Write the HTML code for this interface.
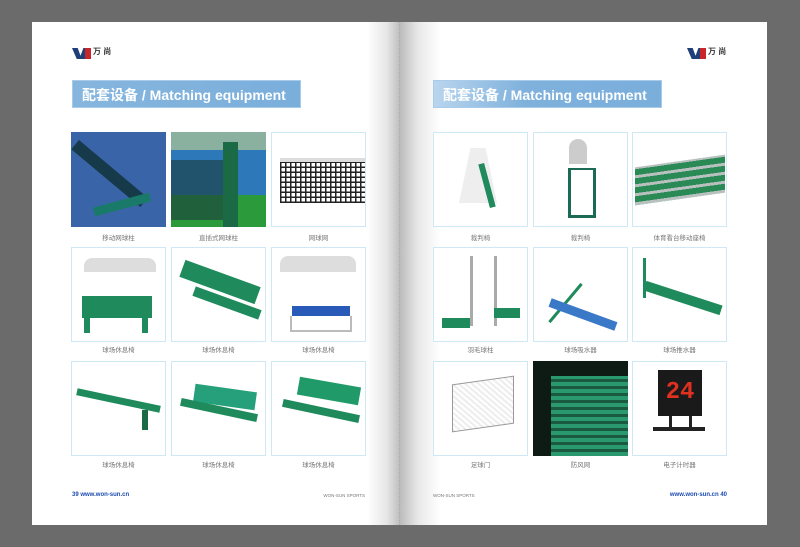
<!DOCTYPE html>
<html><head><meta charset="utf-8"><style>
*{margin:0;padding:0;box-sizing:border-box}
body{width:800px;height:547px;background:#6b6b6b;position:relative;overflow:hidden;font-family:"Liberation Sans","Noto Sans CJK SC",sans-serif}
.pg{position:absolute;top:22px;height:503px;background:#fff}
.a{position:absolute}
.box{position:absolute;width:95px;height:95px;border:1px solid #cfe8f6;background:#fff;overflow:hidden}
.lab{position:absolute;width:95px;text-align:center;font-size:6.5px;color:#777}
.bar{position:absolute;top:80px;height:28px;width:229px;background:linear-gradient(90deg,#86b6de,#7aaedb);color:#fff;font-weight:bold;font-size:14px;line-height:28px;padding-left:9px;border:1px solid #a9cbea}
.logo{position:absolute;top:47px;width:42px;height:14px}
.logo .w{position:absolute;left:0;top:1px;width:19px;height:11px;background:#1f3f7a;clip-path:polygon(0 0,30% 0,45% 70%,60% 0,100% 0,75% 100%,25% 100%)}
.logo .r{position:absolute;left:13px;top:1px;width:6px;height:11px;background:#c8262b}
.logo .t{position:absolute;left:21px;top:-1px;font-size:8px;font-weight:bold;color:#333}
.green{background:#1f8a5b}
</style></head><body>
<div class="pg" style="left:32px;width:368px;background:linear-gradient(90deg,#fff 0,#fff 335px,#e6e6e6 355px,#bdbdbd 368px)"></div>
<div class="pg" style="left:400px;width:367px;background:linear-gradient(90deg,#bcbcbc 0,#e8e8e8 18px,#fff 40px,#fff)"></div>
<div class="a" style="left:399px;top:22px;width:1px;height:503px;border-left:1px dotted #aaa"></div>

<div class="logo" style="left:72px"><div class="w"></div><div class="r"></div><div class="t">万 尚</div></div>
<div class="logo" style="left:687px"><div class="w"></div><div class="r"></div><div class="t">万 尚</div></div>

<div class="bar" style="left:72px">配套设备 / Matching equipment</div>
<div class="bar" style="left:433px;background:linear-gradient(90deg,#b9d5ee,#7fb1dc 40%,#7aaedb)">配套设备 / Matching equipment</div>

<!-- left page -->
<div class="box" style="left:71px;top:132px;background:#3a64a8;border:none"><div class="a" style="left:8px;top:8px;width:70px;height:12px;background:#163a4a;transform:rotate(40deg);transform-origin:0 0;width:90px"></div><div class="a" style="left:22px;top:68px;width:58px;height:9px;background:#1a7a6a;transform:rotate(-15deg)"></div></div>
<div class="box" style="left:171px;top:132px;background:#2a9a3a;border:none"><div class="a" style="left:0;top:0;width:95px;height:18px;background:#8ab0a0"></div><div class="a" style="left:0;top:18px;width:95px;height:45px;background:#2d78b8"></div><div class="a" style="left:0;top:28px;width:52px;height:60px;background:#1a3a3a;opacity:.6"></div><div class="a" style="left:52px;top:10px;width:15px;height:85px;background:#1a6a45"></div></div>
<div class="box" style="left:271px;top:132px"><div class="a" style="left:8px;top:25px;width:86px;height:45px;background:repeating-linear-gradient(0deg,#222 0 1.5px,transparent 1.5px 5px),repeating-linear-gradient(90deg,#222 0 1.5px,transparent 1.5px 5px);border-top:4px solid #ddd"></div></div>
<div class="lab" style="left:71px;top:232px">移动网球柱</div><div class="lab" style="left:171px;top:232px">直插式网球柱</div><div class="lab" style="left:271px;top:232px">网球网</div>

<div class="box" style="left:71px;top:247px"><div class="a" style="left:12px;top:10px;width:72px;height:14px;background:#ddd;border-radius:8px 8px 0 0"></div><div class="a green" style="left:10px;top:48px;width:70px;height:22px"></div><div class="a green" style="left:12px;top:70px;width:6px;height:15px"></div><div class="a green" style="left:70px;top:70px;width:6px;height:15px"></div></div>
<div class="box" style="left:171px;top:247px"><div class="a green" style="left:8px;top:25px;width:80px;height:18px;transform:rotate(20deg)"></div><div class="a green" style="left:20px;top:50px;width:70px;height:10px;transform:rotate(20deg)"></div></div>
<div class="box" style="left:271px;top:247px"><div class="a" style="left:8px;top:8px;width:76px;height:16px;background:#ddd;border-radius:8px 8px 0 0"></div><div class="a" style="left:20px;top:58px;width:58px;height:10px;background:#2a5ab8"></div><div class="a" style="left:18px;top:68px;width:62px;height:16px;border:2px solid #bbb;border-top:none"></div></div>
<div class="lab" style="left:71px;top:344px">球场休息椅</div><div class="lab" style="left:171px;top:344px">球场休息椅</div><div class="lab" style="left:271px;top:344px">球场休息椅</div>

<div class="box" style="left:71px;top:361px"><div class="a green" style="left:4px;top:35px;width:85px;height:7px;transform:rotate(12deg)"></div><div class="a" style="left:70px;top:48px;width:6px;height:20px;background:#1a6a45"></div></div>
<div class="box" style="left:171px;top:361px"><div class="a" style="left:22px;top:26px;width:62px;height:18px;background:#25a07a;transform:rotate(8deg)"></div><div class="a green" style="left:8px;top:44px;width:78px;height:8px;transform:rotate(12deg)"></div></div>
<div class="box" style="left:271px;top:361px"><div class="a" style="left:26px;top:20px;width:62px;height:18px;background:#1f9a68;transform:rotate(10deg)"></div><div class="a green" style="left:10px;top:45px;width:78px;height:8px;transform:rotate(12deg)"></div></div>
<div class="lab" style="left:71px;top:459px">球场休息椅</div><div class="lab" style="left:171px;top:459px">球场休息椅</div><div class="lab" style="left:271px;top:459px">球场休息椅</div>

<div class="a" style="left:72px;top:492px;font-size:6px;color:#1a4ab0;font-weight:bold">39 www.won-sun.cn</div>
<div class="a" style="left:300px;top:493px;width:65px;text-align:right;font-size:4.5px;color:#777">WON-SUN SPORTS</div>

<!-- right page -->
<div class="box" style="left:433px;top:132px"><div class="a" style="left:25px;top:15px;width:38px;height:55px;background:#eee;clip-path:polygon(30% 0,70% 0,100% 100%,0 100%)"></div><div class="a green" style="left:50px;top:30px;width:6px;height:45px;transform:rotate(-15deg)"></div></div>
<div class="box" style="left:533px;top:132px"><div class="a" style="left:35px;top:6px;width:18px;height:25px;background:#ccc;border-radius:10px 10px 0 0"></div><div class="a" style="left:34px;top:35px;width:28px;height:50px;border:3px solid #1a6a55;border-top-width:2px"></div></div>
<div class="box" style="left:632px;top:132px"><div class="a" style="left:2px;top:28px;width:90px;height:38px;background:repeating-linear-gradient(0deg,#b8c0c0 0 3px,#2a8a55 3px 9px);transform:skewY(-8deg)"></div></div>
<div class="lab" style="left:433px;top:232px">裁判椅</div><div class="lab" style="left:533px;top:232px">裁判椅</div><div class="lab" style="left:632px;top:232px">体育看台移动座椅</div>

<div class="box" style="left:433px;top:247px"><div class="a" style="left:36px;top:8px;width:3px;height:70px;background:#aaa"></div><div class="a" style="left:60px;top:8px;width:3px;height:70px;background:#aaa"></div><div class="a green" style="left:8px;top:70px;width:28px;height:10px"></div><div class="a green" style="left:60px;top:60px;width:26px;height:10px"></div></div>
<div class="box" style="left:533px;top:247px"><div class="a green" style="left:30px;top:30px;width:3px;height:50px;transform:rotate(40deg)"></div><div class="a" style="left:14px;top:62px;width:70px;height:9px;background:#3a78c8;transform:rotate(20deg)"></div></div>
<div class="box" style="left:632px;top:247px"><div class="a green" style="left:10px;top:10px;width:3px;height:40px"></div><div class="a green" style="left:10px;top:45px;width:80px;height:10px;transform:rotate(18deg)"></div></div>
<div class="lab" style="left:433px;top:344px">羽毛球柱</div><div class="lab" style="left:533px;top:344px">球场吸水器</div><div class="lab" style="left:632px;top:344px">球场推水器</div>

<div class="box" style="left:433px;top:361px"><div class="a" style="left:18px;top:18px;width:62px;height:48px;border:1px solid #999;background:repeating-linear-gradient(45deg,#eee 0 2px,#fff 2px 4px);transform:skewY(-8deg)"></div></div>
<div class="box" style="left:533px;top:361px;background:#0e1a14;border:none"><div class="a" style="left:18px;top:15px;width:77px;height:80px;background:repeating-linear-gradient(0deg,#2a9a6e 0 4px,#1a5a40 4px 7px)"></div></div>
<div class="box" style="left:632px;top:361px"><div class="a" style="left:25px;top:8px;width:44px;height:46px;background:#1a1a1a;color:#e03020;font-size:24px;font-weight:bold;text-align:center;line-height:46px;font-family:'Liberation Mono',monospace">24</div><div class="a" style="left:20px;top:65px;width:52px;height:4px;background:#222"></div><div class="a" style="left:36px;top:54px;width:3px;height:14px;background:#222"></div><div class="a" style="left:56px;top:54px;width:3px;height:14px;background:#222"></div></div>
<div class="lab" style="left:433px;top:459px">足球门</div><div class="lab" style="left:533px;top:459px">防风网</div><div class="lab" style="left:632px;top:459px">电子计时器</div>

<div class="a" style="left:433px;top:493px;font-size:4.5px;color:#777">WON-SUN SPORTS</div>
<div class="a" style="left:640px;top:492px;width:87px;text-align:right;font-size:6px;color:#1a4ab0;font-weight:bold">www.won-sun.cn 40</div>
</body></html>
